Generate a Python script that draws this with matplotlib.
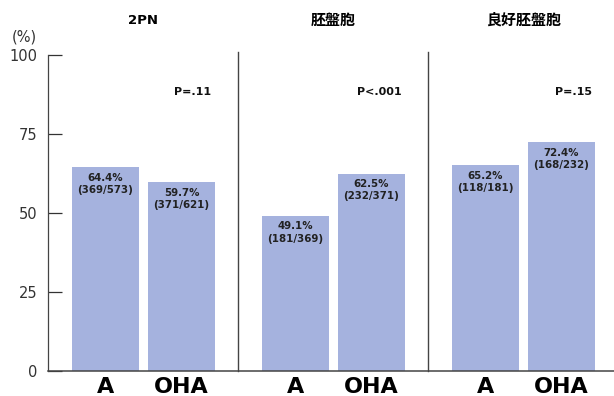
import matplotlib.pyplot as plt

plt.rcParams['font.family'] = ['DejaVu Sans', 'Noto Sans CJK JP']

# three outcome groups, each comparing A vs OHA
groups = ['2PN', '胚盤胞', '良好胚盤胞']
arms = ['A', 'OHA']
rates = [[64.4, 59.7], [49.1, 62.5], [65.2, 72.4]]
counts = [['369/573', '371/621'], ['181/369', '232/371'], ['118/181', '168/232']]
p_values = ['P=.11', 'P<.001', 'P=.15']

BAR_COLOR = '#a5b2de'
ARM_OFFSET = [0.30, 0.70]
BAR_W = 0.357

fig = plt.figure(figsize=(6.14, 3.96), dpi=100)
ax = fig.add_axes([48.5 / 614, 25 / 396, 565.5 / 614, 316 / 396])

tick_pos, tick_lab = [], []
for g, name in enumerate(groups):
    for k, arm in enumerate(arms):
        x = g + ARM_OFFSET[k]
        val = rates[g][k]
        ax.bar(x, val, width=BAR_W, color=BAR_COLOR, edgecolor='none')
        ax.annotate(f'{val}%\n({counts[g][k]})', (x, val), xytext=(0, -4),
                    textcoords='offset points', ha='center', va='top',
                    fontsize=7.4, fontweight='bold', color='#222222',
                    linespacing=1.3)
        tick_pos.append(x)
        tick_lab.append(arm)
    # p-value, right-aligned near the OHA bar edge
    ax.text(g + ARM_OFFSET[1] + BAR_W / 2 - 0.02, 88.4, p_values[g],
            ha='right', va='center', fontsize=8, fontweight='bold',
            color='#111111')
    ax.text(g + 0.5, 1.11, name, transform=ax.get_xaxis_transform(),
            ha='center', va='center', fontweight='bold',
            fontsize=9.5 if name.isascii() else 10.8)
    if g > 0:
        ax.plot([g, g], [0, 101], color='#444444', lw=1, clip_on=False)

ax.set_xlim(0, 565.5 / 190)
ax.set_ylim(0, 100)
ax.set_yticks([0, 25, 50, 75, 100])
ax.tick_params(axis='y', direction='in', length=10, width=0.9, pad=8,
               labelsize=10.5, colors='#333333')
ax.set_xticks(tick_pos)
ax.set_xticklabels(tick_lab, fontsize=16, fontweight='bold')
ax.tick_params(axis='x', length=0, pad=4)

for s in ['top', 'right']:
    ax.spines[s].set_visible(False)
ax.spines['left'].set_color('#444444')
ax.spines['bottom'].set_color('#444444')
ax.spines['left'].set_linewidth(0.9)
ax.spines['bottom'].set_linewidth(1.1)

fig.text(24 / 614, 1 - 37 / 396, '(%)', ha='center', va='center',
         fontsize=10.5, color='#333333')

fig.savefig('out.png', dpi=100)
